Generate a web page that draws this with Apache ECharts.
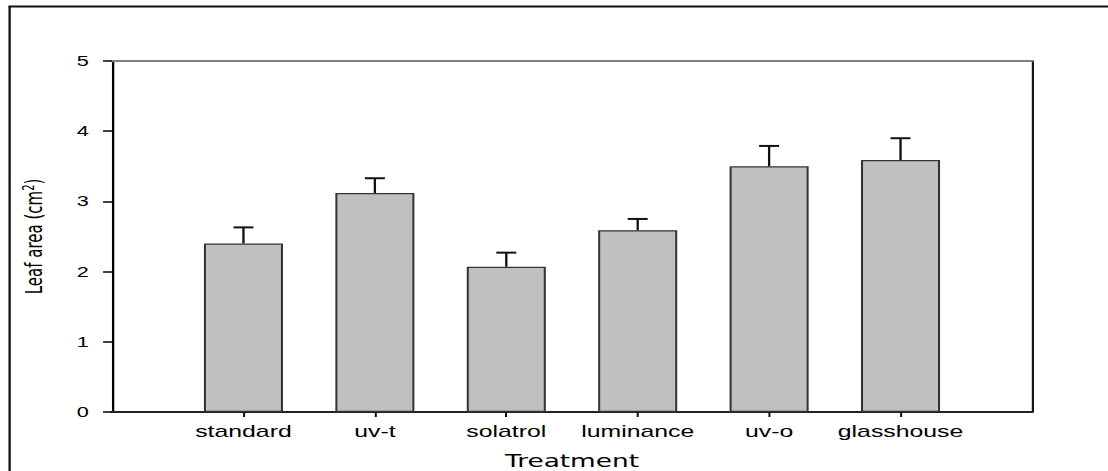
<!DOCTYPE html>
<html>
<head>
<meta charset="utf-8">
<script src="https://cdn.jsdelivr.net/npm/echarts@6/dist/echarts.min.js"></script>
<style>
  html, body { margin: 0; padding: 0; background: #fff; overflow: hidden; }
  #wrap { width: 1108px; height: 471px; overflow: hidden; position: relative; }
  /* the figure is drawn narrow and widened horizontally, like the original export */
  #chart { width: 715px; height: 471px; transform: scaleX(1.5497); transform-origin: 0 0; }
</style>
</head>
<body>
<div id="wrap"><div id="chart"></div></div>
<script>
// Leaf area per treatment: mean and upper standard error
const categories = ['standard', 'uv-t', 'solatrol', 'luminance', 'uv-o', 'glasshouse'];
const leafArea = [2.40, 3.12, 2.07, 2.59, 3.50, 3.59];
const stdError = [0.23, 0.21, 0.20, 0.16, 0.29, 0.31];
const yTicks = [0, 1, 2, 3, 4, 5];

// empty slots on both ends leave a gap before the first and after the last bar
const slots = [''].concat(categories, ['']);
const barData = [null].concat(leafArea, [null]);
const errData = categories.map((c, i) => [i + 1, leafArea[i], leafArea[i] + stdError[i]]);

const chart = echarts.init(document.getElementById('chart'), null, { renderer: 'svg' });

const sans = "'Liberation Sans', Arial, sans-serif";
const wide = "'DejaVu Sans', sans-serif";

chart.setOption({
  animation: false,
  backgroundColor: '#fff',
  grid: { left: 72.3, right: 49.1, top: 61, bottom: 59, outerBoundsMode: 'none', containLabel: false },
  xAxis: [{
    type: 'category',
    data: slots,
    boundaryGap: false,
    position: 'bottom',
    axisLine: { onZero: false, lineStyle: { color: '#222', width: 2 } },
    axisTick: {
      interval: (i) => i > 0 && i <= categories.length,
      length: 5, lineStyle: { color: '#111', width: 1.3 }
    },
    axisLabel: {
      interval: 0, margin: 11, color: '#000',
      fontFamily: sans, fontSize: 16
    },
    name: 'Treatment',
    nameLocation: 'middle',
    nameGap: 40,
    nameTextStyle: { color: '#000', fontFamily: wide, fontSize: 17 },
    splitLine: { show: false }
  }, {
    type: 'category',
    data: slots,
    boundaryGap: false,
    position: 'top',
    axisLine: { onZero: false, lineStyle: { color: '#808080', width: 2 } },
    axisTick: { show: false },
    axisLabel: { show: false },
    splitLine: { show: false }
  }],
  yAxis: [{
    type: 'value',
    min: yTicks[0],
    max: yTicks[yTicks.length - 1],
    interval: 1,
    position: 'left',
    axisLine: { show: true, onZero: false, lineStyle: { color: '#000', width: 1.5 } },
    axisTick: { show: true, length: 5.8, lineStyle: { color: '#000', width: 1.5 } },
    axisLabel: {
      margin: 15, color: '#000', fontFamily: sans, fontSize: 14,
      formatter: (v) => String(v)
    },
    splitLine: { show: false },
    name: '{t|Leaf area (cm}{s|2}{t|)}',
    nameLocation: 'middle',
    nameRotate: 90,
    nameGap: 41,
    nameTextStyle: {
      rich: {
        t: { fontFamily: wide, fontSize: 15, color: '#000' },
        s: { fontFamily: wide, fontSize: 10, color: '#000', verticalAlign: 'top', padding: [0, 0, 8, 0] }
      }
    }
  }, {
    type: 'value',
    min: yTicks[0],
    max: yTicks[yTicks.length - 1],
    interval: 1,
    position: 'right',
    axisLine: { show: true, onZero: false, lineStyle: { color: '#111', width: 1.4 } },
    axisTick: { show: false },
    axisLabel: { show: false },
    splitLine: { show: false }
  }],
  graphic: [
    { type: 'line', shape: { x1: 6.2, y1: 6, x2: 6.2, y2: 471 }, style: { stroke: '#111', lineWidth: 1.5 }, z: 100 },
    { type: 'line', shape: { x1: 5.5, y1: 6.5, x2: 715, y2: 6.5 }, style: { stroke: '#111', lineWidth: 2 }, z: 100 }
  ],
  series: [{
    type: 'bar',
    data: barData,
    barWidth: 51,
    itemStyle: { color: '#c0c0c0', borderColor: '#333', borderWidth: 1.3 },
    z: 2
  }, {
    type: 'custom',
    data: errData,
    z: 3,
    renderItem: (params, api) => {
      const base = api.coord([api.value(0), api.value(1)]);
      const top = api.coord([api.value(0), api.value(2)]);
      const half = 6.45;
      return {
        type: 'group',
        children: [
          { type: 'line', shape: { x1: base[0], y1: base[1], x2: top[0], y2: top[1] },
            style: { stroke: '#111', lineWidth: 1.5 } },
          { type: 'line', shape: { x1: top[0] - half, y1: top[1], x2: top[0] + half, y2: top[1] },
            style: { stroke: '#111', lineWidth: 2 } }
        ]
      };
    }
  }]
});
</script>
</body>
</html>
